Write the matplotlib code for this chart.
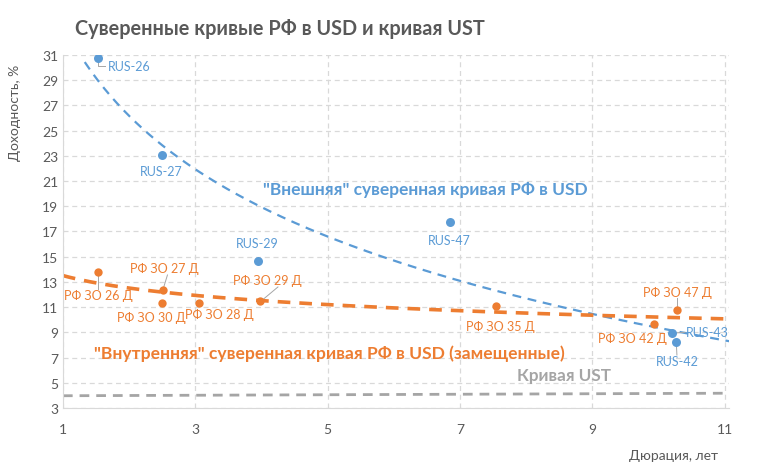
import numpy as np
import matplotlib
matplotlib.use("Agg")
import matplotlib.pyplot as plt

plt.rcParams['font.family'] = ['Lato', 'DejaVu Sans']

# External (USD Eurobonds)
ext_names = ["RUS-26", "RUS-27", "RUS-29", "RUS-47", "RUS-43", "RUS-42"]
ext_dur = [1.53, 2.50, 3.95, 6.85, 10.20, 10.26]
ext_yld = [30.8, 23.1, 14.65, 17.75, 8.94, 8.2]

# Internal (replacement bonds)
int_names = ["РФ ЗО 26 Д", "РФ ЗО 27 Д", "РФ ЗО 30 Д", "РФ ЗО 28 Д",
             "РФ ЗО 29 Д", "РФ ЗО 35 Д", "РФ ЗО 42 Д", "РФ ЗО 47 Д"]
int_dur = [1.53, 2.51, 2.50, 3.05, 3.98, 7.55, 9.93, 10.28]
int_yld = [13.78, 12.35, 11.3, 11.3, 11.48, 11.08, 9.65, 10.76]

# UST curve
ust_dur = [1, 11]
ust_yld = [3.97, 4.17]

xticks = [1, 3, 5, 7, 9, 11]
yticks = list(range(3, 32, 2))

BLUE = "#5B9BD5"
ORANGE = "#ED7D31"
GREY = "#A5A5A5"
TXT = "#595959"

fig = plt.figure(figsize=(7.58, 4.77), dpi=100)
ax = fig.add_axes([0.083, 0.1426, 0.879, 0.740])

# trendlines (logarithmic fits)
b, a = np.polyfit(np.log(ext_dur), ext_yld, 1)
xs = np.linspace(1.33, 11.07, 200)
ax.plot(xs, a + b * np.log(xs), color=BLUE, lw=1.6, ls=(0, (4, 3)), zorder=2)
b2, a2 = np.polyfit(np.log(int_dur), int_yld, 1)
xs2 = np.linspace(1.0, 11.0, 200)
ax.plot(xs2, a2 + b2 * np.log(xs2), color=ORANGE, lw=2.6, ls=(0, (3.5, 2.5)), zorder=2)
ax.plot(ust_dur, ust_yld, color=GREY, lw=2.0, ls=(0, (3.5, 2.5)), zorder=2)

ax.scatter(ext_dur, ext_yld, s=42, color=BLUE, zorder=3, linewidths=0)
ax.scatter(int_dur, int_yld, s=36, color=ORANGE, zorder=3, linewidths=0)

ext_lbl = [(1.68, 30.13, 'left'), (2.49, 21.8, 'center'), (3.94, 16.08, 'center'),
           (6.84, 16.32, 'center'), (10.42, 9.0, 'left'), (10.28, 6.71, 'center')]
for n, x, y, (lx, ly, ha) in zip(ext_names, ext_dur, ext_yld, ext_lbl):
    ax.text(lx, ly, n, color=BLUE, fontsize=9, ha=ha, va='center', zorder=4)

int_lbl = [(1.53, 11.95), (2.54, 14.1), (2.33, 10.2), (3.37, 10.44),
           (4.09, 13.14), (7.61, 9.49), (9.6, 8.54), (10.28, 12.2)]
for n, (lx, ly) in zip(int_names, int_lbl):
    ax.text(lx, ly, n, color=ORANGE, fontsize=9, ha='center', va='center', zorder=4)

# leader lines
lc = dict(color="#A6A6A6", lw=0.7, zorder=2.5)
ax.plot([1.53, 1.53, 1.63], [30.8, 30.13, 30.13], **lc)
ax.plot([10.22, 10.40], [8.94, 9.0], **lc)
ax.plot([10.27, 10.28], [8.2, 7.2], **lc)
ax.plot([1.53, 1.53], [13.78, 12.45], **lc)
ax.plot([2.51, 2.58], [12.35, 13.55], **lc)
ax.plot([4.0, 4.25], [11.5, 12.6], **lc)
ax.plot([10.28, 10.28], [10.76, 11.7], **lc)

ax.text(4.02, 20.37, '"Внешняя" суверенная кривая РФ в USD', color=BLUE,
        fontsize=12.5, fontweight='bold', ha='left', va='center')
ax.text(1.47, 7.35, '"Внутренняя" суверенная кривая РФ в USD (замещенные)', color=ORANGE,
        fontsize=12.6, fontweight='bold', ha='left', va='center')
ax.text(7.86, 5.6, 'Кривая UST', color=GREY,
        fontsize=12.3, fontweight='bold', ha='left', va='center')

ax.set_xlim(1, 11.07)
ax.set_ylim(3, 31)
ax.set_xticks(xticks)
ax.set_yticks(yticks)
ax.grid(True, color="#D9D9D9", ls=(0, (4, 3)), lw=0.9)
ax.set_axisbelow(True)
for s in ['top', 'right']:
    ax.spines[s].set_visible(False)
for s in ['left', 'bottom']:
    ax.spines[s].set_color("#D9D9D9")
ax.tick_params(length=0, colors=TXT, labelsize=10)
ax.tick_params(axis='x', pad=11)

fig.text(75/758, 0.94, "Суверенные кривые РФ в USD и кривая UST", color=TXT,
         fontsize=14.3, fontweight='bold', ha='left', va='center')
fig.text(15/758, 1 - 113/477, "Доходность, %", rotation=90, color=TXT,
         fontsize=10, ha='center', va='center')
fig.text(718/758, 1 - 456/477, "Дюрация, лет", color=TXT,
         fontsize=10, ha='right', va='center')

fig.savefig("out.png", dpi=100)
